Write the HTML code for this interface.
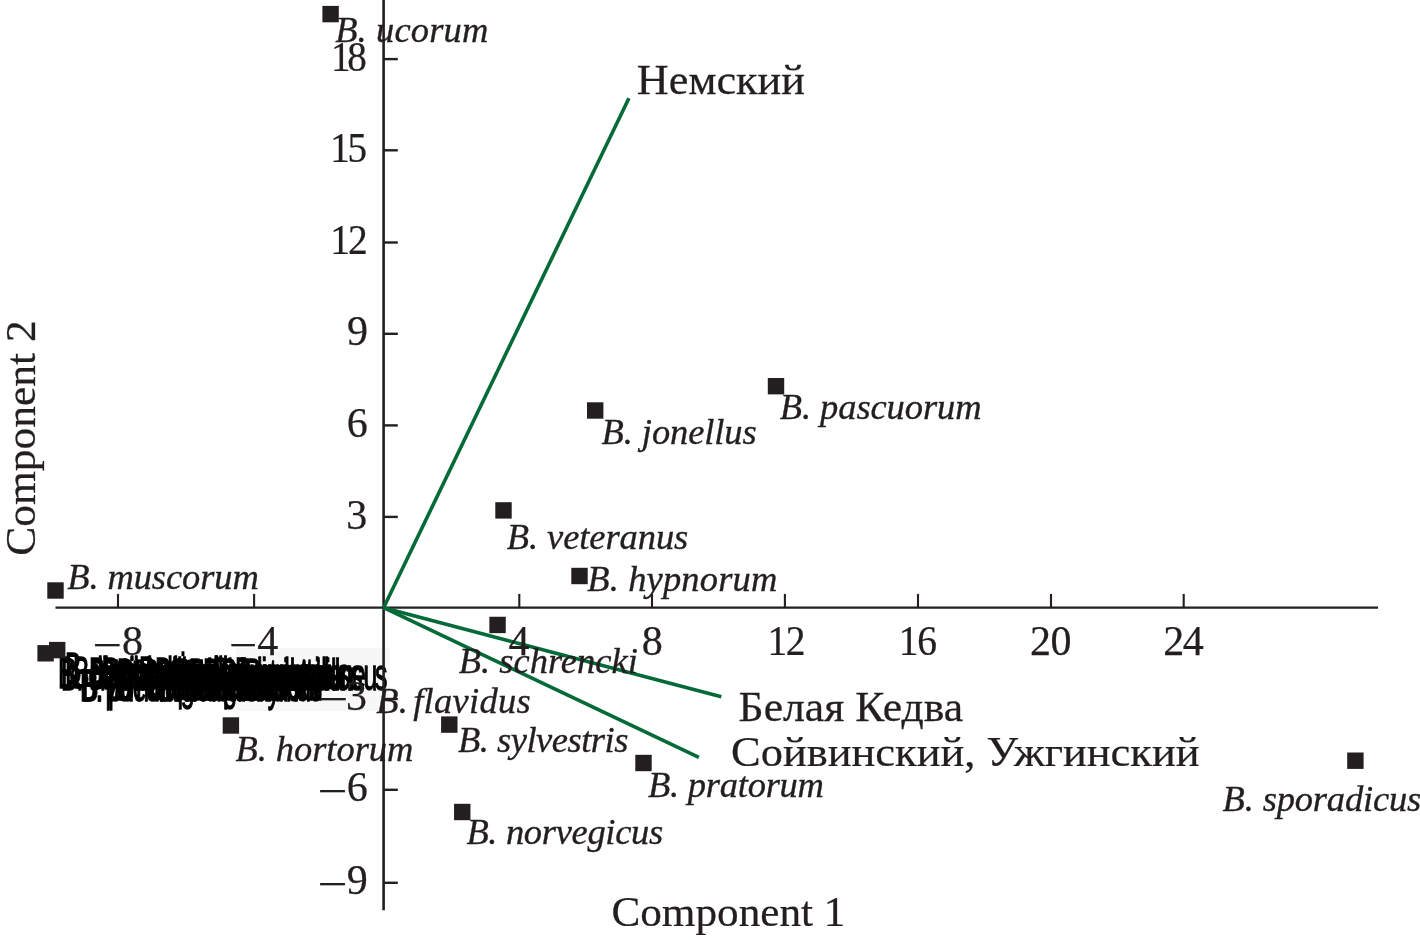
<!DOCTYPE html>
<html lang="ru">
<head>
<meta charset="utf-8">
<title>PCA biplot: Component 1 / Component 2</title>
<style>
html,body{margin:0;padding:0;background:#fff;}
body{width:1420px;height:940px;overflow:hidden;}
svg{display:block;}
text{white-space:pre;}
.ax{stroke:#231f20;stroke-width:2.6;fill:none;}
.tkl{stroke:#231f20;stroke-width:2.1;fill:none;}
.gr{stroke:#046a38;stroke-width:3.6;fill:none;stroke-linecap:butt;}
.pt{fill:#231f20;}
.tk{font-family:"Liberation Serif",serif;font-size:42px;fill:#231f20;stroke:#231f20;stroke-width:0.25px;}
.sp{font-family:"Liberation Serif",serif;font-style:italic;font-size:36.5px;fill:#231f20;stroke:#231f20;stroke-width:0.35px;}
.ru{font-family:"Liberation Serif",serif;font-size:42px;fill:#231f20;stroke:#231f20;stroke-width:0.25px;}
.cl{font-family:"Liberation Sans",sans-serif;font-size:24.7px;fill:#000;stroke:#000;stroke-width:0.7px;}
</style>
</head>
<body>
<svg width="1420" height="940" viewBox="0 0 1420 940">
<defs><filter id="soft" x="-5%" y="-20%" width="110%" height="140%"><feGaussianBlur stdDeviation="0.55"/></filter></defs>
<rect width="1420" height="940" fill="#fff"/>
<rect x="236" y="648" width="153.5" height="63" fill="#f7f7f7"/>
<g id="cluster" class="cl" filter="url(#soft)">
<text id="c0" transform="translate(65.00 683.5) scale(1 1.8)" letter-spacing="-1.50">B. soroeensis</text>
<text id="c1" transform="translate(58.00 687.5) scale(1 1.8)" letter-spacing="0.37">B. distinguendus</text>
<text id="c2" transform="translate(61.00 689.5) scale(1 1.8)" letter-spacing="-0.91">B. cryptarum</text>
<text id="c3" transform="translate(73.00 688.0) scale(1 1.8)" letter-spacing="-0.42">B. lapidarius</text>
<text id="c4" transform="translate(89.00 689.0) scale(1 1.8)" letter-spacing="-0.60">B. sichelii</text>
<text id="c5" transform="translate(103.00 688.5) scale(1 1.8)" letter-spacing="0.25">B. terrestris</text>
<text id="c6" transform="translate(117.00 689.5) scale(1 1.8)" letter-spacing="-0.77">B. consobrinus</text>
<text id="c7" transform="translate(139.00 688.0) scale(1 1.8)" letter-spacing="-0.67">B. humilis</text>
<text id="c8" transform="translate(155.00 689.0) scale(1 1.8)" letter-spacing="-0.33">B. ruderarius</text>
<text id="c9" transform="translate(175.00 690.0) scale(1 1.8)" letter-spacing="-1.20">B. modestus</text>
<text id="c10" transform="translate(189.00 689.5) scale(1 1.8)" letter-spacing="-1.45">B. bohemicus</text>
<text id="c11" transform="translate(213.00 688.5) scale(1 1.8)" letter-spacing="-0.55">B. rupestris</text>
<text id="c12" transform="translate(221.00 690.0) scale(1 1.8)" letter-spacing="-2.50">B. campestris</text>
<text id="c13" transform="translate(235.00 689.0) scale(1 1.8)" letter-spacing="-2.77">B. barbutellus</text>
<text id="c14" transform="translate(203.00 689.5) scale(1 1.8)" letter-spacing="-1.80">B. semenoviellus</text>
<text id="c15" transform="translate(245.00 689.8) scale(1 1.8)" letter-spacing="-2.29">B. subterraneus</text>
<text id="c16" transform="translate(80.00 700.5) scale(1 1.8)" letter-spacing="-0.68">B. pseudobaicalensis</text>
<text id="c17" transform="translate(149.00 700.0) scale(1 1.8)" letter-spacing="-0.58">B. patagiatus</text>
<text id="c18" transform="translate(189.00 699.5) scale(1 1.8)" letter-spacing="-1.46">B. quadricolor</text>
<text id="c19" transform="translate(159.00 700.5) scale(1 1.8)" letter-spacing="-1.71">B. deuteronymus</text>
<text id="c20" transform="translate(117.00 699.5) scale(1 1.8)" letter-spacing="0.33">B. cingulatus</text>
<text id="c21" transform="translate(213.00 700.0) scale(1 1.8)" letter-spacing="-1.00">B. wurflenii</text>
<text id="c22" transform="translate(82.00 701.0) scale(1 1.8)" letter-spacing="-2.22">B. pomorum</text>
</g>
<g id="axes" class="ax">
<line x1="383.6" y1="0" x2="383.6" y2="910.2"/>
<line x1="55.5" y1="607.7" x2="1378" y2="607.7" style="stroke-width:2.3"/>
</g>
<g id="ticks" class="tkl">
<line x1="118.0" y1="593.9" x2="118.0" y2="607.7"/>
<line x1="254.1" y1="593.9" x2="254.1" y2="607.7"/>
<line x1="519.3" y1="593.9" x2="519.3" y2="607.7"/>
<line x1="652.0" y1="593.9" x2="652.0" y2="607.7"/>
<line x1="784.9" y1="593.9" x2="784.9" y2="607.7"/>
<line x1="918.0" y1="593.9" x2="918.0" y2="607.7"/>
<line x1="1051.0" y1="593.9" x2="1051.0" y2="607.7"/>
<line x1="1183.7" y1="593.9" x2="1183.7" y2="607.7"/>
<line x1="383.6" y1="59.1" x2="397.8" y2="59.1" style="stroke-width:2.4"/>
<line x1="383.6" y1="150.3" x2="397.8" y2="150.3" style="stroke-width:2.4"/>
<line x1="383.6" y1="242.5" x2="397.8" y2="242.5" style="stroke-width:2.4"/>
<line x1="383.6" y1="333.8" x2="397.8" y2="333.8" style="stroke-width:2.4"/>
<line x1="383.6" y1="425.4" x2="397.8" y2="425.4" style="stroke-width:2.4"/>
<line x1="383.6" y1="516.9" x2="397.8" y2="516.9" style="stroke-width:2.4"/>
<line x1="383.6" y1="699.0" x2="397.8" y2="699.0" style="stroke-width:2.4"/>
<line x1="383.6" y1="789.8" x2="397.8" y2="789.8" style="stroke-width:2.4"/>
<line x1="383.6" y1="882.8" x2="397.8" y2="882.8" style="stroke-width:2.4"/>
</g>
<g id="vectors" class="gr">
<line x1="383.6" y1="607.7" x2="628.9" y2="98.2"/>
<line x1="383.6" y1="607.7" x2="721.3" y2="696.8"/>
<line x1="383.6" y1="607.7" x2="698.9" y2="757.4"/>
</g>
<g id="ticklabels" class="tk">
<text id="y18" transform="translate(331.00 70.6) scale(0.93 1)" letter-spacing="-3.50">18</text>
<text id="y15" transform="translate(330.20 162.0) scale(0.93 1)" letter-spacing="-2.50">15</text>
<text id="y12" transform="translate(330.20 253.7) scale(0.94 1)" letter-spacing="-2.00">12</text>
<text id="y9" x="347.05" y="345.3" letter-spacing="0.00">9</text>
<text id="y6" x="346.65" y="436.8" letter-spacing="0.00">6</text>
<text id="y3" x="346.35" y="528.6" letter-spacing="0.00">3</text>
<text y="709.6"><tspan id="mm3" x="318.20" dy="3.50" textLength="30.02" lengthAdjust="spacingAndGlyphs">−</tspan><tspan id="ym3" x="346.10" y="709.6">3</tspan></text>
<text y="801.2"><tspan id="mm6" x="317.40" dy="4.00" textLength="30.03" lengthAdjust="spacingAndGlyphs">−</tspan><tspan id="ym6" x="346.65" y="801.2">6</tspan></text>
<text y="894.3"><tspan id="mm9" x="317.40" dy="4.00" textLength="30.03" lengthAdjust="spacingAndGlyphs">−</tspan><tspan id="ym9" x="346.75" y="894.3">9</tspan></text>
<text y="654.9"><tspan id="mx8" x="92.40" dy="4.50" textLength="29.47" lengthAdjust="spacingAndGlyphs">−</tspan><tspan id="xm8" x="122.00" y="654.9">8</tspan></text>
<text y="654.9"><tspan id="mx4" x="229.00" dy="4.50" textLength="28.29" lengthAdjust="spacingAndGlyphs">−</tspan><tspan id="xm4" x="257.35" y="654.9">4</tspan></text>
<text id="x4" x="508.55" y="654.9" letter-spacing="0.00">4</text>
<text id="x8" x="641.70" y="654.9" letter-spacing="0.00">8</text>
<text id="x12" transform="translate(767.40 654.9) scale(0.94 1)" letter-spacing="-1.50">12</text>
<text id="x16" transform="translate(898.80 654.9) scale(0.94 1)" letter-spacing="-1.50">16</text>
<text id="x20" x="1030.00" y="654.9" letter-spacing="-0.50">20</text>
<text id="x24" x="1163.20" y="654.9" letter-spacing="-1.50">24</text>
</g>
<g id="species">
<text id="s_luc" class="sp" x="335.20" y="42.3" letter-spacing="0.13">B. ucorum</text>
<text id="s_jon" class="sp" x="601.60" y="444.0" letter-spacing="-0.10">B. jonellus</text>
<text id="s_pas" class="sp" x="779.80" y="419.4" letter-spacing="-0.09">B. pascuorum</text>
<text id="s_vet" class="sp" x="506.80" y="548.5" letter-spacing="-0.09">B. veteranus</text>
<text id="s_hyp" class="sp" x="587.20" y="591.0" letter-spacing="0.15">B. hypnorum</text>
<text id="s_mus" class="sp" x="67.20" y="589.0" letter-spacing="-0.10">B. muscorum</text>
<text id="s_sch" class="sp" x="458.80" y="672.6" letter-spacing="-0.00">B. schrencki</text>
<text id="s_fla" class="sp" x="376.20" y="712.6" letter-spacing="0.30" word-spacing="-4.5">B. flavidus</text>
<text id="s_syl" class="sp" x="458.00" y="751.7" letter-spacing="-0.50">B. sylvestris</text>
<text id="s_hor" class="sp" x="235.40" y="760.9" letter-spacing="-0.05">B. hortorum</text>
<text id="s_pra" class="sp" x="648.00" y="796.8" letter-spacing="-0.25">B. pratorum</text>
<text id="s_nor" class="sp" x="466.40" y="843.6" letter-spacing="-0.33">B. norvegicus</text>
<text id="s_spo" class="sp" x="1222.60" y="810.7" letter-spacing="-0.17">B. sporadicus</text>
</g>
<g id="points" class="pt">
<rect x="322.40" y="5.90" width="16.4" height="16.4"/>
<rect x="587.00" y="402.30" width="16.4" height="16.4"/>
<rect x="767.80" y="378.00" width="16.4" height="16.4"/>
<rect x="495.30" y="502.20" width="16.4" height="16.4"/>
<rect x="571.30" y="567.80" width="16.4" height="16.4"/>
<rect x="47.30" y="582.30" width="16.4" height="16.4"/>
<rect x="489.35" y="616.75" width="16.4" height="16.4"/>
<rect x="37.40" y="645.10" width="16.4" height="16.4"/>
<rect x="49.00" y="641.90" width="16.4" height="16.4"/>
<rect x="222.70" y="717.30" width="16.4" height="16.4"/>
<rect x="441.10" y="716.40" width="16.4" height="16.4"/>
<rect x="635.30" y="754.80" width="16.4" height="16.4"/>
<rect x="454.05" y="803.80" width="16.4" height="16.4"/>
<rect x="1347.20" y="752.50" width="16.4" height="16.4"/>
</g>
<g id="sites">
<text id="r_nem" class="ru" transform="translate(636.80 93.9) scale(1.0538 1)">Немский</text>
<text id="r_bel" class="ru" transform="translate(738.60 720.9) scale(1.0395 1)">Белая Кедва</text>
<text id="r_soi" class="ru" transform="translate(731.00 765.6) scale(1.0590 1)">Сойвинский, Ужгинский</text>
<text id="t_c1" class="ru" transform="translate(611.40 926.4) scale(1.0290 1)">Component 1</text>
<text id="t_c2" class="ru" transform="translate(34.9 555.80) rotate(-90) scale(1.0356 1)">Component 2</text>
</g>
</svg>
</body>
</html>
